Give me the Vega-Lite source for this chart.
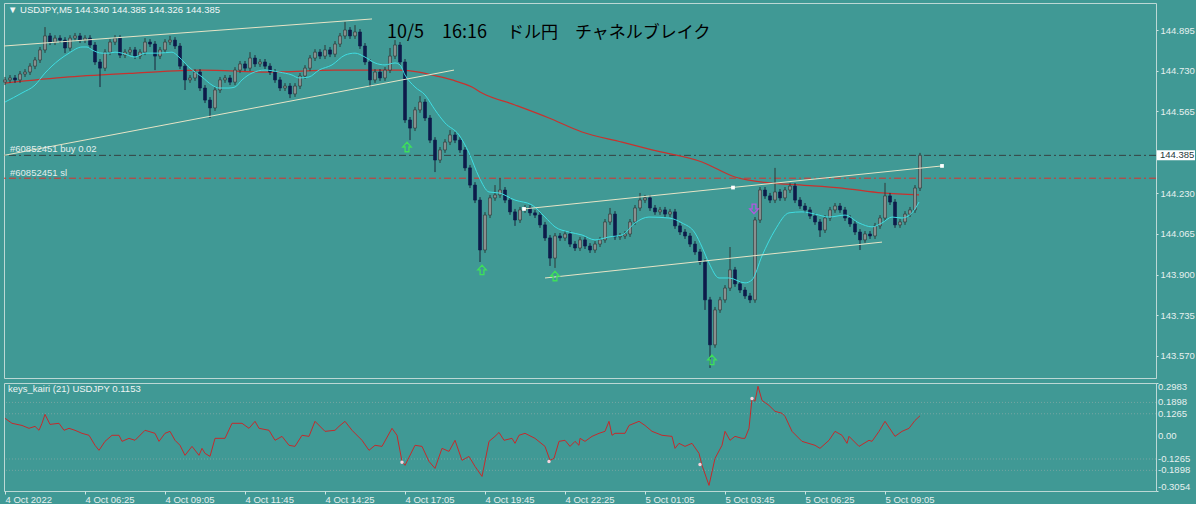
{
  "$schema": "https://vega.github.io/schema/vega-lite/v6.json",
  "background": "#409995",
  "padding": {"left": 2, "top": 2, "right": 0, "bottom": 0},
  "spacing": 2,
  "config": {
    "view": {"stroke": "#bcd8d5", "strokeWidth": 1},
    "font": "Liberation Sans",
    "axis": {"labelFont": "Liberation Sans", "labelFontSize": 9.5, "labelColor": "#e6f0ef", "tickColor": "#d0e4e2", "tickSize": 2, "labelPadding": 2, "labelOverlap": false, "domain": false, "grid": false, "title": null}
  },
  "datasets": {
    "candles": [
      {"t":0,"open":144.683,"high":144.704,"low":144.671,"close":144.692},
      {"t":10,"open":144.692,"high":144.712,"low":144.680,"close":144.700},
      {"t":20,"open":144.700,"high":144.712,"low":144.680,"close":144.692},
      {"t":30,"open":144.692,"high":144.728,"low":144.680,"close":144.716},
      {"t":40,"open":144.716,"high":144.736,"low":144.704,"close":144.724},
      {"t":50,"open":144.724,"high":144.760,"low":144.712,"close":144.748},
      {"t":60,"open":144.748,"high":144.785,"low":144.736,"close":144.773},
      {"t":70,"open":144.773,"high":144.826,"low":144.761,"close":144.814},
      {"t":80,"open":144.814,"high":144.907,"low":144.802,"close":144.871},
      {"t":90,"open":144.871,"high":144.883,"low":144.834,"close":144.846},
      {"t":100,"open":144.846,"high":144.874,"low":144.834,"close":144.862},
      {"t":110,"open":144.862,"high":144.874,"low":144.842,"close":144.854},
      {"t":120,"open":144.854,"high":144.866,"low":144.801,"close":144.822},
      {"t":130,"open":144.822,"high":144.874,"low":144.810,"close":144.862},
      {"t":140,"open":144.862,"high":144.883,"low":144.850,"close":144.871},
      {"t":150,"open":144.871,"high":144.883,"low":144.842,"close":144.854},
      {"t":160,"open":144.854,"high":144.874,"low":144.842,"close":144.862},
      {"t":170,"open":144.862,"high":144.874,"low":144.822,"close":144.834},
      {"t":180,"open":144.834,"high":144.846,"low":144.753,"close":144.765},
      {"t":190,"open":144.765,"high":144.777,"low":144.663,"close":144.740},
      {"t":200,"open":144.740,"high":144.817,"low":144.728,"close":144.805},
      {"t":210,"open":144.805,"high":144.858,"low":144.793,"close":144.846},
      {"t":220,"open":144.846,"high":144.874,"low":144.834,"close":144.862},
      {"t":230,"open":144.862,"high":144.874,"low":144.781,"close":144.793},
      {"t":240,"open":144.793,"high":144.817,"low":144.781,"close":144.805},
      {"t":250,"open":144.805,"high":144.826,"low":144.793,"close":144.814},
      {"t":260,"open":144.814,"high":144.826,"low":144.777,"close":144.789},
      {"t":270,"open":144.789,"high":144.817,"low":144.777,"close":144.805},
      {"t":280,"open":144.805,"high":144.862,"low":144.793,"close":144.846},
      {"t":290,"open":144.846,"high":144.858,"low":144.826,"close":144.838},
      {"t":300,"open":144.838,"high":144.850,"low":144.732,"close":144.789},
      {"t":310,"open":144.789,"high":144.826,"low":144.777,"close":144.814},
      {"t":320,"open":144.814,"high":144.858,"low":144.802,"close":144.846},
      {"t":330,"open":144.846,"high":144.871,"low":144.834,"close":144.854},
      {"t":340,"open":144.854,"high":144.866,"low":144.818,"close":144.830},
      {"t":350,"open":144.830,"high":144.842,"low":144.736,"close":144.748},
      {"t":360,"open":144.748,"high":144.760,"low":144.651,"close":144.692},
      {"t":370,"open":144.692,"high":144.712,"low":144.680,"close":144.700},
      {"t":380,"open":144.700,"high":144.736,"low":144.688,"close":144.724},
      {"t":390,"open":144.724,"high":144.736,"low":144.647,"close":144.659},
      {"t":400,"open":144.659,"high":144.671,"low":144.598,"close":144.610},
      {"t":410,"open":144.610,"high":144.622,"low":144.537,"close":144.578},
      {"t":420,"open":144.578,"high":144.663,"low":144.566,"close":144.651},
      {"t":430,"open":144.651,"high":144.704,"low":144.639,"close":144.692},
      {"t":440,"open":144.692,"high":144.712,"low":144.680,"close":144.700},
      {"t":450,"open":144.700,"high":144.712,"low":144.671,"close":144.683},
      {"t":460,"open":144.683,"high":144.744,"low":144.671,"close":144.732},
      {"t":470,"open":144.732,"high":144.769,"low":144.720,"close":144.757},
      {"t":480,"open":144.757,"high":144.769,"low":144.728,"close":144.740},
      {"t":490,"open":144.740,"high":144.805,"low":144.728,"close":144.781},
      {"t":500,"open":144.781,"high":144.793,"low":144.745,"close":144.757},
      {"t":510,"open":144.757,"high":144.777,"low":144.745,"close":144.765},
      {"t":520,"open":144.765,"high":144.777,"low":144.736,"close":144.748},
      {"t":530,"open":144.748,"high":144.760,"low":144.712,"close":144.724},
      {"t":540,"open":144.724,"high":144.736,"low":144.680,"close":144.692},
      {"t":550,"open":144.692,"high":144.704,"low":144.647,"close":144.659},
      {"t":560,"open":144.659,"high":144.679,"low":144.647,"close":144.667},
      {"t":570,"open":144.667,"high":144.679,"low":144.618,"close":144.635},
      {"t":580,"open":144.635,"high":144.679,"low":144.623,"close":144.667},
      {"t":590,"open":144.667,"high":144.720,"low":144.655,"close":144.708},
      {"t":600,"open":144.708,"high":144.752,"low":144.696,"close":144.740},
      {"t":610,"open":144.740,"high":144.793,"low":144.728,"close":144.781},
      {"t":620,"open":144.781,"high":144.817,"low":144.769,"close":144.805},
      {"t":630,"open":144.805,"high":144.817,"low":144.777,"close":144.789},
      {"t":640,"open":144.789,"high":144.834,"low":144.777,"close":144.814},
      {"t":650,"open":144.814,"high":144.826,"low":144.785,"close":144.797},
      {"t":660,"open":144.797,"high":144.850,"low":144.785,"close":144.838},
      {"t":670,"open":144.838,"high":144.883,"low":144.826,"close":144.871},
      {"t":680,"open":144.871,"high":144.928,"low":144.859,"close":144.895},
      {"t":690,"open":144.895,"high":144.907,"low":144.859,"close":144.871},
      {"t":700,"open":144.871,"high":144.915,"low":144.859,"close":144.887},
      {"t":710,"open":144.887,"high":144.899,"low":144.818,"close":144.830},
      {"t":720,"open":144.830,"high":144.842,"low":144.753,"close":144.765},
      {"t":730,"open":144.765,"high":144.777,"low":144.663,"close":144.692},
      {"t":740,"open":144.692,"high":144.736,"low":144.680,"close":144.724},
      {"t":750,"open":144.724,"high":144.736,"low":144.688,"close":144.700},
      {"t":760,"open":144.700,"high":144.744,"low":144.688,"close":144.732},
      {"t":770,"open":144.732,"high":144.822,"low":144.720,"close":144.789},
      {"t":780,"open":144.789,"high":144.854,"low":144.777,"close":144.834},
      {"t":790,"open":144.834,"high":144.846,"low":144.753,"close":144.765},
      {"t":800,"open":144.765,"high":144.777,"low":144.517,"close":144.529},
      {"t":810,"open":144.529,"high":144.541,"low":144.447,"close":144.496},
      {"t":820,"open":144.496,"high":144.582,"low":144.484,"close":144.570},
      {"t":830,"open":144.570,"high":144.626,"low":144.558,"close":144.602},
      {"t":840,"open":144.602,"high":144.614,"low":144.525,"close":144.537},
      {"t":850,"open":144.537,"high":144.549,"low":144.435,"close":144.447},
      {"t":860,"open":144.447,"high":144.459,"low":144.317,"close":144.366},
      {"t":870,"open":144.366,"high":144.419,"low":144.354,"close":144.407},
      {"t":880,"open":144.407,"high":144.451,"low":144.395,"close":144.439},
      {"t":890,"open":144.439,"high":144.488,"low":144.427,"close":144.468},
      {"t":900,"open":144.468,"high":144.480,"low":144.435,"close":144.447},
      {"t":910,"open":144.447,"high":144.459,"low":144.395,"close":144.407},
      {"t":920,"open":144.407,"high":144.419,"low":144.322,"close":144.334},
      {"t":930,"open":144.334,"high":144.346,"low":144.252,"close":144.264},
      {"t":940,"open":144.264,"high":144.276,"low":144.191,"close":144.203},
      {"t":950,"open":144.203,"high":144.215,"low":143.951,"close":144.000},
      {"t":960,"open":144.000,"high":144.154,"low":143.988,"close":144.142},
      {"t":970,"open":144.142,"high":144.224,"low":144.130,"close":144.212},
      {"t":980,"open":144.212,"high":144.264,"low":144.200,"close":144.224},
      {"t":990,"open":144.224,"high":144.293,"low":144.212,"close":144.244},
      {"t":1000,"open":144.244,"high":144.256,"low":144.191,"close":144.203},
      {"t":1010,"open":144.203,"high":144.215,"low":144.143,"close":144.155},
      {"t":1020,"open":144.155,"high":144.167,"low":144.098,"close":144.122},
      {"t":1030,"open":144.122,"high":144.175,"low":144.110,"close":144.163},
      {"t":1040,"open":144.163,"high":144.183,"low":144.151,"close":144.171},
      {"t":1050,"open":144.171,"high":144.183,"low":144.139,"close":144.151},
      {"t":1060,"open":144.151,"high":144.163,"low":144.130,"close":144.142},
      {"t":1070,"open":144.142,"high":144.154,"low":144.090,"close":144.102},
      {"t":1080,"open":144.102,"high":144.114,"low":144.037,"close":144.049},
      {"t":1090,"open":144.049,"high":144.061,"low":143.935,"close":143.967},
      {"t":1100,"open":143.967,"high":144.069,"low":143.927,"close":144.057},
      {"t":1110,"open":144.057,"high":144.069,"low":144.037,"close":144.049},
      {"t":1120,"open":144.049,"high":144.077,"low":144.037,"close":144.065},
      {"t":1130,"open":144.065,"high":144.077,"low":144.012,"close":144.024},
      {"t":1140,"open":144.024,"high":144.036,"low":143.996,"close":144.008},
      {"t":1150,"open":144.008,"high":144.053,"low":143.996,"close":144.041},
      {"t":1160,"open":144.041,"high":144.053,"low":144.004,"close":144.016},
      {"t":1170,"open":144.016,"high":144.028,"low":143.988,"close":144.000},
      {"t":1180,"open":144.000,"high":144.036,"low":143.988,"close":144.024},
      {"t":1190,"open":144.024,"high":144.053,"low":144.012,"close":144.041},
      {"t":1200,"open":144.041,"high":144.126,"low":144.029,"close":144.114},
      {"t":1210,"open":144.114,"high":144.171,"low":144.102,"close":144.146},
      {"t":1220,"open":144.146,"high":144.158,"low":144.041,"close":144.053},
      {"t":1230,"open":144.053,"high":144.069,"low":144.041,"close":144.057},
      {"t":1240,"open":144.057,"high":144.077,"low":144.045,"close":144.065},
      {"t":1250,"open":144.065,"high":144.126,"low":144.053,"close":144.114},
      {"t":1260,"open":144.114,"high":144.183,"low":144.102,"close":144.171},
      {"t":1270,"open":144.171,"high":144.232,"low":144.159,"close":144.203},
      {"t":1280,"open":144.203,"high":144.224,"low":144.191,"close":144.212},
      {"t":1290,"open":144.212,"high":144.224,"low":144.159,"close":144.171},
      {"t":1300,"open":144.171,"high":144.183,"low":144.143,"close":144.155},
      {"t":1310,"open":144.155,"high":144.175,"low":144.143,"close":144.163},
      {"t":1320,"open":144.163,"high":144.175,"low":144.134,"close":144.146},
      {"t":1330,"open":144.146,"high":144.167,"low":144.134,"close":144.155},
      {"t":1340,"open":144.155,"high":144.167,"low":144.086,"close":144.098},
      {"t":1350,"open":144.098,"high":144.110,"low":144.061,"close":144.073},
      {"t":1360,"open":144.073,"high":144.085,"low":144.045,"close":144.057},
      {"t":1370,"open":144.057,"high":144.069,"low":144.012,"close":144.024},
      {"t":1380,"open":144.024,"high":144.036,"low":143.980,"close":143.992},
      {"t":1390,"open":143.992,"high":144.004,"low":143.939,"close":143.951},
      {"t":1400,"open":143.951,"high":143.963,"low":143.756,"close":143.797},
      {"t":1410,"open":143.797,"high":143.809,"low":143.520,"close":143.614},
      {"t":1420,"open":143.614,"high":143.768,"low":143.602,"close":143.756},
      {"t":1430,"open":143.756,"high":143.809,"low":143.744,"close":143.797},
      {"t":1440,"open":143.797,"high":143.857,"low":143.785,"close":143.845},
      {"t":1450,"open":143.845,"high":144.012,"low":143.833,"close":143.919},
      {"t":1460,"open":143.919,"high":143.931,"low":143.850,"close":143.862},
      {"t":1470,"open":143.862,"high":143.874,"low":143.825,"close":143.837},
      {"t":1480,"open":143.837,"high":143.849,"low":143.801,"close":143.813},
      {"t":1490,"open":143.813,"high":143.825,"low":143.784,"close":143.797},
      {"t":1500,"open":143.797,"high":144.134,"low":143.785,"close":144.122},
      {"t":1510,"open":144.122,"high":144.256,"low":144.110,"close":144.244},
      {"t":1520,"open":144.244,"high":144.256,"low":144.208,"close":144.220},
      {"t":1530,"open":144.220,"high":144.232,"low":144.191,"close":144.203},
      {"t":1540,"open":144.203,"high":144.334,"low":144.191,"close":144.236},
      {"t":1550,"open":144.236,"high":144.248,"low":144.200,"close":144.212},
      {"t":1560,"open":144.212,"high":144.256,"low":144.200,"close":144.244},
      {"t":1570,"open":144.244,"high":144.272,"low":144.232,"close":144.260},
      {"t":1580,"open":144.260,"high":144.272,"low":144.191,"close":144.203},
      {"t":1590,"open":144.203,"high":144.215,"low":144.167,"close":144.179},
      {"t":1600,"open":144.179,"high":144.191,"low":144.151,"close":144.163},
      {"t":1610,"open":144.163,"high":144.175,"low":144.126,"close":144.138},
      {"t":1620,"open":144.138,"high":144.150,"low":144.102,"close":144.114},
      {"t":1630,"open":144.114,"high":144.126,"low":144.053,"close":144.081},
      {"t":1640,"open":144.081,"high":144.142,"low":144.069,"close":144.130},
      {"t":1650,"open":144.130,"high":144.175,"low":144.118,"close":144.163},
      {"t":1660,"open":144.163,"high":144.191,"low":144.151,"close":144.179},
      {"t":1670,"open":144.179,"high":144.191,"low":144.151,"close":144.163},
      {"t":1680,"open":144.163,"high":144.175,"low":144.118,"close":144.130},
      {"t":1690,"open":144.130,"high":144.142,"low":144.094,"close":144.106},
      {"t":1700,"open":144.106,"high":144.118,"low":144.061,"close":144.073},
      {"t":1710,"open":144.073,"high":144.085,"low":144.000,"close":144.041},
      {"t":1720,"open":144.041,"high":144.077,"low":144.029,"close":144.065},
      {"t":1730,"open":144.065,"high":144.077,"low":144.045,"close":144.057},
      {"t":1740,"open":144.057,"high":144.110,"low":144.045,"close":144.098},
      {"t":1750,"open":144.098,"high":144.142,"low":144.086,"close":144.130},
      {"t":1760,"open":144.130,"high":144.273,"low":144.118,"close":144.220},
      {"t":1770,"open":144.220,"high":144.232,"low":144.183,"close":144.195},
      {"t":1780,"open":144.195,"high":144.207,"low":144.090,"close":144.102},
      {"t":1790,"open":144.102,"high":144.126,"low":144.090,"close":144.114},
      {"t":1800,"open":144.114,"high":144.158,"low":144.102,"close":144.146},
      {"t":1810,"open":144.146,"high":144.175,"low":144.134,"close":144.163},
      {"t":1820,"open":144.163,"high":144.264,"low":144.151,"close":144.252},
      {"t":1830,"open":144.252,"high":144.395,"low":144.240,"close":144.385}
    ],
    "maFast": [
      {"t":0,"price":144.602},{"t":34,"price":144.639},{"t":60,"price":144.671},{"t":80,"price":144.720},
      {"t":108,"price":144.773},{"t":128,"price":144.801},{"t":154,"price":144.826},{"t":164,"price":144.826},
      {"t":174,"price":144.814},{"t":194,"price":144.801},{"t":208,"price":144.801},{"t":220,"price":144.805},
      {"t":234,"price":144.801},{"t":260,"price":144.785},{"t":280,"price":144.801},{"t":308,"price":144.801},
      {"t":334,"price":144.805},{"t":348,"price":144.785},{"t":368,"price":144.744},{"t":394,"price":144.704},
      {"t":414,"price":144.671},{"t":428,"price":144.659},{"t":448,"price":144.659},{"t":460,"price":144.663},
      {"t":474,"price":144.692},{"t":494,"price":144.720},{"t":520,"price":144.732},{"t":548,"price":144.724},
      {"t":574,"price":144.712},{"t":588,"price":144.700},{"t":608,"price":144.704},{"t":628,"price":144.732},
      {"t":654,"price":144.753},{"t":680,"price":144.793},{"t":700,"price":144.801},{"t":720,"price":144.785},
      {"t":740,"price":144.761},{"t":760,"price":144.753},{"t":780,"price":144.761},{"t":790,"price":144.753},
      {"t":800,"price":144.712},{"t":820,"price":144.663},{"t":840,"price":144.631},{"t":860,"price":144.570},
      {"t":880,"price":144.517},{"t":908,"price":144.468},{"t":928,"price":144.395},{"t":948,"price":144.297},
      {"t":968,"price":144.236},{"t":988,"price":144.232},{"t":1020,"price":144.203},{"t":1054,"price":144.183},
      {"t":1080,"price":144.134},{"t":1100,"price":144.094},{"t":1128,"price":144.073},{"t":1154,"price":144.061},
      {"t":1180,"price":144.041},{"t":1208,"price":144.053},{"t":1234,"price":144.061},{"t":1260,"price":144.110},
      {"t":1288,"price":144.134},{"t":1328,"price":144.130},{"t":1354,"price":144.110},{"t":1380,"price":144.069},
      {"t":1394,"price":144.012},{"t":1408,"price":143.947},{"t":1428,"price":143.886},{"t":1448,"price":143.886},
      {"t":1480,"price":143.866},{"t":1494,"price":143.878},{"t":1514,"price":143.976},{"t":1540,"price":144.081},
      {"t":1568,"price":144.151},{"t":1594,"price":144.155},{"t":1620,"price":144.146},{"t":1648,"price":144.134},
      {"t":1680,"price":144.142},{"t":1708,"price":144.110},{"t":1734,"price":144.094},{"t":1754,"price":144.110},
      {"t":1774,"price":144.134},{"t":1794,"price":144.130},{"t":1814,"price":144.151},{"t":1828,"price":144.195}
    ],
    "maSlow": [
      {"t":0,"price":144.679},{"t":128,"price":144.704},{"t":260,"price":144.720},{"t":394,"price":144.732},
      {"t":528,"price":144.724},{"t":660,"price":144.732},{"t":788,"price":144.732},{"t":828,"price":144.724},
      {"t":854,"price":144.712},{"t":894,"price":144.692},{"t":934,"price":144.663},{"t":954,"price":144.639},
      {"t":1020,"price":144.590},{"t":1088,"price":144.537},{"t":1154,"price":144.480},{"t":1234,"price":144.439},
      {"t":1294,"price":144.407},{"t":1394,"price":144.358},{"t":1460,"price":144.297},{"t":1528,"price":144.273},
      {"t":1594,"price":144.264},{"t":1674,"price":144.252},{"t":1754,"price":144.232},{"t":1828,"price":144.224}
    ],
    "trends": [
      {"t1":-2,"p1":144.830,"t2":734,"p2":144.940},
      {"t1":-2,"p1":144.385,"t2":898,"p2":144.732},
      {"t1":1038,"p1":144.167,"t2":1874,"p2":144.342},
      {"t1":1080,"p1":143.886,"t2":1754,"p2":144.032}
    ],
    "trendDots": [
      {"t":1038,"price":144.167},{"t":1456,"price":144.254},{"t":1874,"price":144.342}
    ],
    "arrows": [
      {"t":804,"price":144.419,"dir":"up"},
      {"t":954,"price":143.919,"dir":"up"},
      {"t":1100,"price":143.894,"dir":"up"},
      {"t":1414,"price":143.553,"dir":"up"},
      {"t":1498,"price":144.167,"dir":"down"}
    ],
    "kairi": [
      {"t":0,"value":0.101},{"t":14,"value":0.073},{"t":34,"value":0.061},{"t":48,"value":0.045},
      {"t":60,"value":0.056},{"t":68,"value":0.034},{"t":74,"value":0.073},{"t":80,"value":0.123},
      {"t":90,"value":0.067},{"t":108,"value":0.073},{"t":118,"value":0.034},{"t":128,"value":0.045},
      {"t":140,"value":0.034},{"t":154,"value":0.017},{"t":168,"value":0.006},{"t":180,"value":-0.050},
      {"t":188,"value":-0.078},{"t":200,"value":-0.028},{"t":214,"value":0.006},{"t":228,"value":0.006},
      {"t":234,"value":-0.028},{"t":248,"value":-0.011},{"t":260,"value":-0.022},{"t":280,"value":0.034},
      {"t":300,"value":0.017},{"t":308,"value":-0.028},{"t":320,"value":0.017},{"t":330,"value":0.028},
      {"t":340,"value":-0.022},{"t":350,"value":-0.050},{"t":360,"value":-0.106},{"t":374,"value":-0.056},
      {"t":388,"value":-0.106},{"t":394,"value":-0.067},{"t":400,"value":-0.095},{"t":410,"value":-0.112},
      {"t":420,"value":-0.011},{"t":440,"value":-0.011},{"t":454,"value":0.073},{"t":474,"value":0.073},
      {"t":488,"value":0.045},{"t":500,"value":0.084},{"t":508,"value":0.045},{"t":528,"value":0.034},
      {"t":540,"value":-0.022},{"t":554,"value":0.000},{"t":568,"value":-0.050},{"t":580,"value":-0.056},
      {"t":594,"value":0.006},{"t":608,"value":0.000},{"t":620,"value":0.084},{"t":640,"value":0.028},
      {"t":660,"value":0.034},{"t":668,"value":0.056},{"t":680,"value":0.084},{"t":694,"value":0.034},
      {"t":714,"value":-0.022},{"t":728,"value":-0.078},{"t":740,"value":-0.050},{"t":754,"value":-0.056},
      {"t":774,"value":0.045},{"t":784,"value":0.006},{"t":794,"value":-0.140},{"t":800,"value":-0.162},
      {"t":820,"value":-0.050},{"t":834,"value":-0.056},{"t":848,"value":-0.140},{"t":860,"value":-0.179},
      {"t":874,"value":-0.067},{"t":888,"value":-0.084},{"t":900,"value":-0.022},{"t":914,"value":-0.134},
      {"t":928,"value":-0.112},{"t":940,"value":-0.168},{"t":954,"value":-0.224},{"t":968,"value":-0.028},
      {"t":980,"value":0.000},{"t":988,"value":0.022},{"t":998,"value":-0.022},{"t":1014,"value":-0.011},
      {"t":1020,"value":-0.039},{"t":1028,"value":0.006},{"t":1040,"value":0.017},{"t":1060,"value":-0.011},
      {"t":1080,"value":-0.056},{"t":1090,"value":-0.134},{"t":1098,"value":-0.123},{"t":1108,"value":-0.028},
      {"t":1120,"value":-0.022},{"t":1130,"value":-0.056},{"t":1140,"value":-0.028},{"t":1148,"value":-0.050},
      {"t":1150,"value":-0.011},{"t":1160,"value":-0.028},{"t":1174,"value":0.000},{"t":1188,"value":0.017},
      {"t":1200,"value":0.028},{"t":1208,"value":0.084},{"t":1214,"value":0.006},{"t":1220,"value":0.017},
      {"t":1240,"value":0.017},{"t":1248,"value":0.061},{"t":1268,"value":0.084},{"t":1280,"value":0.061},
      {"t":1294,"value":0.028},{"t":1314,"value":0.006},{"t":1334,"value":0.000},{"t":1340,"value":-0.067},
      {"t":1348,"value":-0.039},{"t":1360,"value":-0.056},{"t":1374,"value":-0.039},{"t":1388,"value":-0.095},
      {"t":1394,"value":-0.162},{"t":1408,"value":-0.274},{"t":1420,"value":-0.123},{"t":1434,"value":-0.050},
      {"t":1440,"value":0.028},{"t":1450,"value":-0.022},{"t":1460,"value":0.000},{"t":1474,"value":-0.011},
      {"t":1480,"value":-0.011},{"t":1488,"value":0.045},{"t":1494,"value":0.212},{"t":1500,"value":0.196},
      {"t":1506,"value":0.280},{"t":1514,"value":0.201},{"t":1528,"value":0.173},{"t":1540,"value":0.140},
      {"t":1554,"value":0.129},{"t":1560,"value":0.112},{"t":1574,"value":0.028},{"t":1594,"value":-0.028},
      {"t":1620,"value":-0.050},{"t":1630,"value":-0.067},{"t":1648,"value":-0.022},{"t":1660,"value":0.028},
      {"t":1674,"value":0.006},{"t":1684,"value":-0.039},{"t":1688,"value":0.000},{"t":1708,"value":-0.056},
      {"t":1728,"value":-0.022},{"t":1734,"value":-0.028},{"t":1748,"value":0.028},{"t":1760,"value":0.084},
      {"t":1780,"value":0.000},{"t":1794,"value":0.028},{"t":1808,"value":0.045},{"t":1820,"value":0.089},
      {"t":1830,"value":0.115}
    ],
    "kairiDots": [
      {"t":794,"value":-0.145},{"t":1088,"value":-0.140},{"t":1390,"value":-0.157},{"t":1494,"value":0.212}
    ],
    "kairiLevels": [
      {"value":0.1898},{"value":0.1265},{"value":-0.1265},{"value":-0.1898}
    ],
    "kairiLabels": [
      {"t":2306,"value":0.276,"label":"0.2983"},
      {"t":2306,"value":0.1898,"label":"0.1898"},
      {"t":2306,"value":0.1265,"label":"0.1265"},
      {"t":2306,"value":0,"label":"0.00"},
      {"t":2306,"value":-0.1265,"label":"-0.1265"},
      {"t":2306,"value":-0.1898,"label":"-0.1898"},
      {"t":2306,"value":-0.283,"label":"-0.3054"}
    ]
  },
  "vconcat": [
    {
      "width": 1152,
      "height": 375,
      "layer": [
        {
          "data": {"values": [{"price": 144.385}]},
          "mark": {"type": "rule", "color": "#354141", "strokeWidth": 1, "strokeDash": [7, 3, 2, 3]},
          "encoding": {
            "y": {"field": "price", "type": "quantitative", "scale": {"domain": [143.479, 145.005], "nice": false, "zero": false},
              "axis": {"orient": "right", "values": [144.895, 144.73, 144.565, 144.23, 144.065, 143.9, 143.735, 143.57], "format": ".3f"}}
          }
        },
        {
          "data": {"values": [{"price": 144.292}]},
          "mark": {"type": "rule", "color": "#d8322e", "strokeWidth": 1, "strokeDash": [7, 3, 2, 3]},
          "encoding": {"y": {"field": "price", "type": "quantitative"}}
        },
        {
          "data": {"name": "maSlow"},
          "mark": {"type": "line", "color": "#c8322e", "strokeWidth": 1.2, "interpolate": "monotone"},
          "encoding": {
            "x": {"field": "t", "type": "quantitative", "scale": {"domain": [-2, 2302], "nice": false, "zero": false, "padding": 0}, "axis": null},
            "y": {"field": "price", "type": "quantitative"}
          }
        },
        {
          "data": {"name": "candles"},
          "mark": {"type": "rule", "strokeWidth": 1},
          "encoding": {
            "x": {"field": "t", "type": "quantitative", "scale": {"domain": [-2, 2302], "nice": false, "zero": false, "padding": 0}},
            "y": {"field": "low", "type": "quantitative"},
            "y2": {"field": "high"},
            "color": {"condition": {"test": "datum.close >= datum.open", "value": "#2e3636"}, "value": "#1a2238"}
          }
        },
        {
          "data": {"name": "candles"},
          "mark": {"type": "bar", "size": 3, "strokeWidth": 0.6},
          "encoding": {
            "x": {"field": "t", "type": "quantitative", "scale": {"domain": [-2, 2302], "nice": false, "zero": false, "padding": 0}},
            "y": {"field": "open", "type": "quantitative"},
            "y2": {"field": "close"},
            "color": {"condition": {"test": "datum.close >= datum.open", "value": "#8a8e8e"}, "value": "#0d1b4a"},
            "stroke": {"condition": {"test": "datum.close >= datum.open", "value": "#2e3636"}, "value": "#0d1b4a"}
          }
        },
        {
          "data": {"name": "maFast"},
          "mark": {"type": "line", "color": "#3fdde2", "strokeWidth": 1, "interpolate": "monotone"},
          "encoding": {
            "x": {"field": "t", "type": "quantitative"},
            "y": {"field": "price", "type": "quantitative"}
          }
        },
        {
          "data": {"name": "trends"},
          "mark": {"type": "rule", "color": "#e6e4c6", "strokeWidth": 1},
          "encoding": {
            "x": {"field": "t1", "type": "quantitative"},
            "x2": {"field": "t2"},
            "y": {"field": "p1", "type": "quantitative"},
            "y2": {"field": "p2"}
          }
        },
        {
          "data": {"name": "trendDots"},
          "mark": {"type": "square", "color": "#ffffff", "size": 14, "opacity": 1},
          "encoding": {
            "x": {"field": "t", "type": "quantitative"},
            "y": {"field": "price", "type": "quantitative"}
          }
        },
        {
          "data": {"name": "arrows"},
          "mark": {"type": "point", "filled": false, "strokeWidth": 1.3, "size": 90, "opacity": 1},
          "encoding": {
            "x": {"field": "t", "type": "quantitative"},
            "y": {"field": "price", "type": "quantitative"},
            "shape": {"field": "dir", "type": "nominal", "legend": null,
              "scale": {"domain": ["up", "down"], "range": ["M0,-1L0.9,0L0.4,0L0.4,1L-0.4,1L-0.4,0L-0.9,0Z", "M0,1L0.9,0L0.4,0L0.4,-1L-0.4,-1L-0.4,0L-0.9,0Z"]}},
            "color": {"field": "dir", "type": "nominal", "legend": null,
              "scale": {"domain": ["up", "down"], "range": ["#3ee05a", "#b455e0"]}}
          }
        },
        {
          "data": {"values": [
            {"t": 10, "price": 144.399, "label": "#60852451 buy 0.02"},
            {"t": 10, "price": 144.301, "label": "#60852451 sl"}
          ]},
          "mark": {"type": "text", "align": "left", "baseline": "alphabetic", "fontSize": 9.5, "color": "#e2eeed"},
          "encoding": {
            "x": {"field": "t", "type": "quantitative"},
            "y": {"field": "price", "type": "quantitative"},
            "text": {"field": "label"}
          }
        },
        {
          "data": {"values": [{"t": 6, "price": 144.976, "label": "▼ USDJPY,M5  144.340 144.385 144.326 144.385"}]},
          "mark": {"type": "text", "align": "left", "baseline": "middle", "fontSize": 9.5, "color": "#f2f6f6"},
          "encoding": {
            "x": {"field": "t", "type": "quantitative"},
            "y": {"field": "price", "type": "quantitative"},
            "text": {"field": "label"}
          }
        },
        {
          "data": {"values": [
            {"t": 764, "price": 144.861, "label": "10/5　16:16", "size": 18},
            {"t": 1004, "price": 144.861, "label": "ドル円　チャネルブレイク", "size": 17}
          ]},
          "mark": {"type": "text", "align": "left", "baseline": "alphabetic", "font": "Noto Sans CJK JP", "color": "#000000"},
          "encoding": {
            "x": {"field": "t", "type": "quantitative"},
            "y": {"field": "price", "type": "quantitative"},
            "text": {"field": "label"},
            "size": {"field": "size", "type": "quantitative", "scale": null}
          }
        },
        {
          "data": {"values": [{"t": 2304, "t2": 2380, "p1": 144.406, "p2": 144.365}]},
          "mark": {"type": "rect", "color": "#ffffff"},
          "encoding": {
            "x": {"field": "t", "type": "quantitative"},
            "x2": {"field": "t2"},
            "y": {"field": "p1", "type": "quantitative"},
            "y2": {"field": "p2"}
          }
        },
        {
          "data": {"values": [{"t": 2310, "price": 144.385, "label": "144.385"}]},
          "mark": {"type": "text", "align": "left", "baseline": "middle", "fontSize": 9.5, "color": "#1f3a3a"},
          "encoding": {
            "x": {"field": "t", "type": "quantitative"},
            "y": {"field": "price", "type": "quantitative"},
            "text": {"field": "label"}
          }
        }
      ]
    },
    {
      "width": 1152,
      "height": 108,
      "layer": [
        {
          "data": {"name": "kairiLevels"},
          "mark": {"type": "rule", "color": "#75a5a2", "strokeWidth": 1, "strokeDash": [1, 2]},
          "encoding": {
            "y": {"field": "value", "type": "quantitative", "scale": {"domain": [-0.3054, 0.2983], "nice": false, "zero": false},
              "axis": {"orient": "right", "values": [0.2983, 0.1898, 0.1265, 0, -0.1265, -0.1898, -0.3054], "labels": false}}
          }
        },
        {
          "data": {"name": "kairi"},
          "mark": {"type": "line", "color": "#c42a2c", "strokeWidth": 1},
          "encoding": {
            "x": {"field": "t", "type": "quantitative", "scale": {"domain": [-2, 2302], "nice": false, "zero": false},
              "axis": {"orient": "bottom", "values": [0, 160, 320, 480, 640, 800, 960, 1120, 1280, 1440, 1600, 1760], "labelAlign": "left", "tickSize": 3, "labelPadding": 0,
                "labelExpr": "datum.value == 0 ? '4 Oct 2022' : timeFormat(datetime(2022, 9, 4, 3, 45 + datum.value), '%-d %b %H:%M')"}},
            "y": {"field": "value", "type": "quantitative"}
          }
        },
        {
          "data": {"name": "kairiDots"},
          "mark": {"type": "circle", "color": "#f6d4de", "size": 12, "opacity": 1},
          "encoding": {
            "x": {"field": "t", "type": "quantitative"},
            "y": {"field": "value", "type": "quantitative"}
          }
        },
        {
          "data": {"name": "kairiLabels"},
          "mark": {"type": "text", "align": "left", "baseline": "middle", "fontSize": 9.5, "color": "#e6f0ef"},
          "encoding": {
            "x": {"field": "t", "type": "quantitative"},
            "y": {"field": "value", "type": "quantitative"},
            "text": {"field": "label"}
          }
        },
        {
          "data": {"values": [{"t": 6, "value": 0.265, "label": "keys_kairi (21) USDJPY 0.1153"}]},
          "mark": {"type": "text", "align": "left", "baseline": "middle", "fontSize": 9.5, "color": "#eef4f4"},
          "encoding": {
            "x": {"field": "t", "type": "quantitative"},
            "y": {"field": "value", "type": "quantitative"},
            "text": {"field": "label"}
          }
        }
      ]
    }
  ]
}
